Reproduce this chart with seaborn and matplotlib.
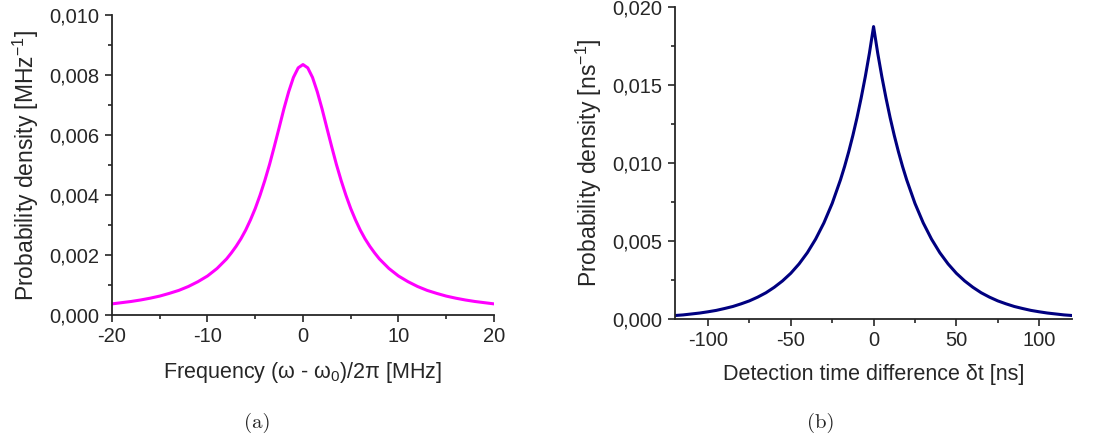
import numpy as np
import pandas as pd
import matplotlib
matplotlib.use("Agg")
import matplotlib.pyplot as plt
from matplotlib.ticker import MultipleLocator, FuncFormatter
import seaborn as sns

# --- values ---
# (a) line shape vs. frequency detuning
freq_mhz = [-20, -19, -18, -17, -16, -15, -14, -13, -12, -11, -10, -9, -8, -7.5, -7,
            -6.5, -6, -5.5, -5, -4.5, -4, -3.5, -3, -2.5, -2, -1.5, -1, -0.5, 0,
            0.5, 1, 1.5, 2, 2.5, 3, 3.5, 4, 4.5, 5, 5.5, 6, 6.5, 7, 7.5, 8,
            9, 10, 11, 12, 13, 14, 15, 16, 17, 18, 19, 20]
dens_freq = [0.00037, 0.00041, 0.00045, 0.00050, 0.00056, 0.00063, 0.00072, 0.00082,
             0.00095, 0.00111, 0.00130, 0.00155, 0.00187, 0.00207, 0.00229,
             0.00254, 0.00283, 0.00317, 0.00355, 0.00399, 0.00448, 0.00502, 0.00562,
             0.00624, 0.00687, 0.00744, 0.00792, 0.00824, 0.00835,
             0.00824, 0.00792, 0.00744, 0.00687, 0.00624, 0.00562, 0.00502, 0.00448,
             0.00399, 0.00355, 0.00317, 0.00283, 0.00254, 0.00229, 0.00207, 0.00187,
             0.00155, 0.00130, 0.00111, 0.00095, 0.00082, 0.00072, 0.00063, 0.00056,
             0.00050, 0.00045, 0.00041, 0.00037]

# (b) detection time difference distribution
dt_ns = [-120, -115, -110, -105, -100, -95, -90, -85, -80, -75, -70, -65, -60, -55,
         -50, -45, -40, -35, -30, -25, -20, -17.5, -15, -12.5, -10, -7.5, -5, -2.5, 0,
         2.5, 5, 7.5, 10, 12.5, 15, 17.5, 20, 25, 30, 35, 40, 45, 50, 55, 60, 65, 70,
         75, 80, 85, 90, 95, 100, 105, 110, 115, 120]
dens_dt = [0.00022, 0.00026, 0.00032, 0.00038, 0.00046, 0.00055, 0.00067, 0.00080,
           0.00097, 0.00116, 0.00140, 0.00168, 0.00203, 0.00244, 0.00293, 0.00353,
           0.00425, 0.00512, 0.00616, 0.00741, 0.00892, 0.00978, 0.01073, 0.01177,
           0.01291, 0.01417, 0.01554, 0.01705, 0.01875,
           0.01705, 0.01554, 0.01417, 0.01291, 0.01177, 0.01073, 0.00978, 0.00892,
           0.00741, 0.00616, 0.00512, 0.00425, 0.00353, 0.00293, 0.00244, 0.00203,
           0.00168, 0.00140, 0.00116, 0.00097, 0.00080, 0.00067, 0.00055, 0.00046,
           0.00038, 0.00032, 0.00026, 0.00022]

df_a = pd.DataFrame({"x": freq_mhz, "y": dens_freq})
df_b = pd.DataFrame({"x": dt_ns, "y": dens_dt})

sns.set_theme(style="ticks")
plt.rcParams["font.family"] = ["Liberation Sans", "DejaVu Sans"]
plt.rcParams["mathtext.default"] = "regular"

fig = plt.figure(figsize=(11.1, 4.43), dpi=100)
ax1 = fig.add_axes([0.1009, 0.289, 0.3441, 0.677])
ax2 = fig.add_axes([0.608, 0.280, 0.358, 0.704])

comma = FuncFormatter(lambda v, p: f"{v:.3f}".replace(".", ","))
intfmt = FuncFormatter(lambda v, p: f"{v:.0f}")

sns.lineplot(data=df_a, x="x", y="y", ax=ax1, color="#ff00ff", lw=2.2)
sns.lineplot(data=df_b, x="x", y="y", ax=ax2, color="#000080", lw=2.2)

ax1.set_xlim(-20, 20)
ax1.set_ylim(0, 0.010)
ax1.xaxis.set_major_locator(MultipleLocator(10))
ax1.xaxis.set_minor_locator(MultipleLocator(5))
ax1.yaxis.set_major_locator(MultipleLocator(0.002))
ax1.yaxis.set_minor_locator(MultipleLocator(0.001))
ax1.set_xlabel(r"Frequency (ω - ω$_0$)/2π [MHz]", fontsize=15.5, labelpad=10)
ax1.set_ylabel(r"Probability density [MHz$^{-1}$]", fontsize=16.5, labelpad=6)

ax2.set_xlim(-120, 120)
ax2.set_ylim(0, 0.020)
ax2.xaxis.set_major_locator(MultipleLocator(50))
ax2.xaxis.set_minor_locator(MultipleLocator(25))
ax2.yaxis.set_major_locator(MultipleLocator(0.005))
ax2.yaxis.set_minor_locator(MultipleLocator(0.0025))
ax2.set_xlabel("Detection time difference δt [ns]", fontsize=15.5, labelpad=10)
ax2.set_ylabel(r"Probability density [ns$^{-1}$]", fontsize=16.5, labelpad=6)

for ax in (ax1, ax2):
    ax.yaxis.set_major_formatter(comma)
    ax.xaxis.set_major_formatter(intfmt)
    sns.despine(ax=ax)
    for s in ("left", "bottom"):
        ax.spines[s].set_linewidth(1.3)
    ax.tick_params(which="major", direction="out", length=5, width=1.2, labelsize=14.5, pad=4)
    ax.tick_params(which="minor", direction="out", length=3, width=1.2)

fig.text(0.2315, 0.045, "(a)", fontfamily="cmr10", fontsize=15, ha="center", va="center")
fig.text(0.739, 0.045, "(b)", fontfamily="cmr10", fontsize=15, ha="center", va="center")

fig.savefig("out.png", dpi=100)
